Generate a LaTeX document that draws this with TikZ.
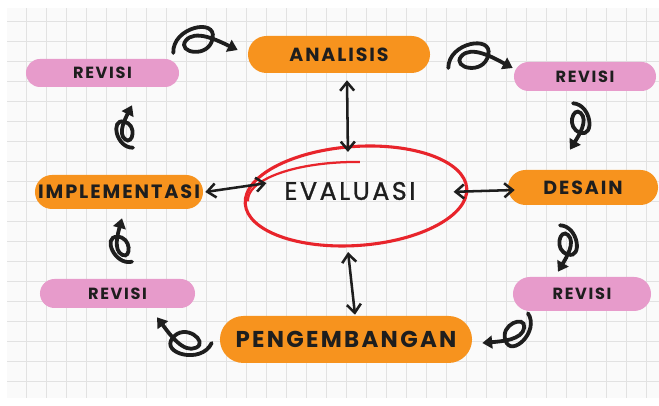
\documentclass[tikz,border=0pt]{standalone}
\usepackage{fontspec}
\setmainfont{Poppins}
\usetikzlibrary{arrows.meta,positioning,calc,shapes.geometric,shapes.misc}
\definecolor{CycOrange}{HTML}{F7931E}
\definecolor{CycPink}{HTML}{E79BCB}
\definecolor{CycRed}{HTML}{E8242B}
\definecolor{CycInk}{HTML}{1E1E1E}
\definecolor{GridLine}{HTML}{E2E2E2}
\definecolor{GridPaper}{HTML}{FAFAFA}
\newcommand{\spaced}[1]{\fontsize{#1}{#1}\selectfont\addfontfeature{LetterSpace=10}}
\newcommand{\curlpt}[2]{({\x1+(#1)*\x3-(#2)*\y3},{\y1+(#1)*\y3+(#2)*\x3})}

\begin{document}
\begin{tikzpicture}[x=0.025cm,y=0.025cm]
    \tikzset{ob/.style={rounded rectangle,fill=CycOrange,text=CycInk,inner sep=0pt},
      pb/.style={rounded rectangle,fill=CycPink,text=CycInk,inner sep=0pt,
        font=\bfseries\spaced{11.5}},
      dbl/.style={{Straight Barb[length=6pt,width=10pt]}-{Straight Barb[length=6pt,width=10pt]},
        line width=1.8pt,draw=CycInk},
      curl/.style={-{Triangle[length=7pt,width=9pt]},line width=2.7pt,draw=CycInk,line cap=round,
        to path={let \p1=(\tikztostart),\p2=(\tikztotarget),\p3=($(\p2)-(\p1)$) in
          .. controls \curlpt{0}{0.4} and \curlpt{0.7}{0.52} .. \curlpt{0.62}{0.2}
          .. controls \curlpt{0.55}{-0.12} and \curlpt{0.05}{0} .. \curlpt{0.2}{0.18}
          .. controls \curlpt{0.35}{0.36} and \curlpt{0.7}{0.16} .. (\p2)}}}
    \useasboundingbox (0,0) rectangle (659,406);
    \fill[white] (0,0) rectangle (659,406);
    \fill[GridPaper] (7,8) rectangle (659,398);
    \draw[GridLine,line width=0.5pt,step=20,shift={(6.7,5)}] (0.3,3) grid (652.3,393);
    \node[ob,minimum width=4.55cm,minimum height=0.925cm,font=\bfseries\spaced{13.5}] (ana) at (339,351.5) {ANALISIS};
    \node[pb,minimum width=3.825cm,minimum height=0.7cm] (revtl) at (102.5,333) {REVISI};
    \node[pb,minimum width=3.55cm,minimum height=0.725cm] (revtr) at (585,329.5) {REVISI};
    \node[ob,minimum width=3.75cm,minimum height=0.875cm,font=\bfseries\spaced{13.5}] (des) at (583,218.5) {DESAIN};
    \node[ob,minimum width=4.2cm,minimum height=0.85cm,font=\bfseries\spaced{13.7}] (imp) at (119,214) {IMPLEMENTASI};
    \node[pb,minimum width=3.875cm,minimum height=0.725cm] (revbl) at (117.5,112.5) {REVISI};
    \node[pb,minimum width=3.45cm,minimum height=0.85cm] (revbr) at (582,112) {REVISI};
    \node[ob,minimum width=6.3cm,minimum height=1.175cm,font=\bfseries\spaced{16.3}] (peng) at (346,66.5) {PENGEMBANGAN};
    \node[ellipse,draw=CycRed,line width=2.2pt,minimum width=5.55cm,minimum height=2.475cm,rotate=4] (ring) at (356,210) {};
    \draw[CycRed,line width=1.6pt] ($(ring.center)+(3.8,34)$) arc[start angle=88,end angle=182,x radius=108,y radius=38];
    \node[text=CycInk,font=\spaced{18}\addfontfeature{FakeBold=1}] (eva) at (350,215) {EVALUASI};
    \draw[dbl] ($(ana.south)+(8,-7)$) -- ($(ring.north)+(-4.5,-6.9)$);
    \draw[dbl] ($(ring.east)+(-14.7,-3.7)$) -- ($(des.west)+(7,-2.5)$);
    \draw[dbl] ($(imp.east)+(2,0)$) -- ($(ring.west)+(22.7,20.7)$);
    \draw[dbl] ($(ring.south)+(-11.5,-5.1)$) -- ($(peng.north)+(9,1)$);
    \draw[curl] ($(revtl.east)+(-6,20)$) to ($(ana.west)+(-10,4.5)$);
    \draw[curl] ($(ana.east)+(18,-13.5)$) to ($(revtr.west)+(-1,8.5)$);
    \draw[curl] ($(revtr.south)+(-12,-12)$) to ($(des.north)+(-13,20)$);
    \draw[curl] ($(des.south)+(-23,-20)$) to ($(revbr.north)+(-24,5)$);
    \draw[curl] ($(revbr.south)+(-54,-2)$) to ($(peng.east)+(10,-3.5)$);
    \draw[curl] ($(peng.west)+(-8,-3.5)$) to ($(revbl.south)+(39.5,-9)$);
    \draw[curl] ($(revbl.north)+(14.5,17)$) to ($(imp.south)+(3,-9)$);
    \draw[curl] ($(imp.north)+(14,27)$) to ($(revtl.south)+(29.5,-18)$);
  \end{tikzpicture}
\end{document}
